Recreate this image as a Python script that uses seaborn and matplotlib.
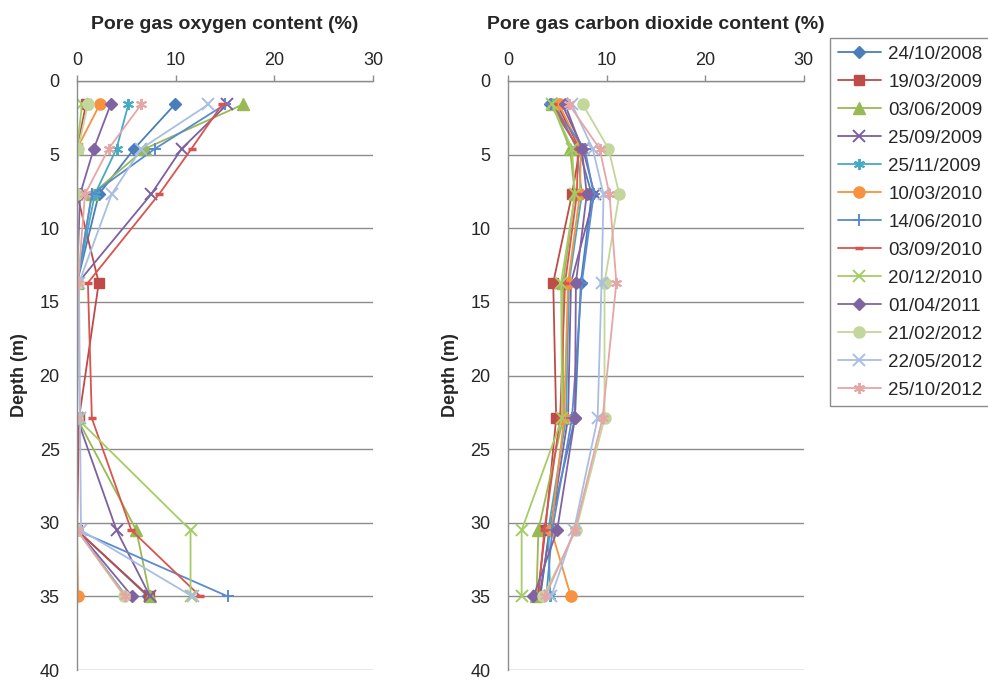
import pandas as pd
import matplotlib
matplotlib.use('Agg')
import matplotlib.pyplot as plt
import seaborn as sns

# sampling depths (m)
depths = [1.6, 4.6, 7.7, 13.7, 22.9, 30.5, 35.0]

dates = ['24/10/2008', '19/03/2009', '03/06/2009', '25/09/2009', '25/11/2009',
         '10/03/2010', '14/06/2010', '03/09/2010', '20/12/2010', '01/04/2011',
         '21/02/2012', '22/05/2012', '25/10/2012']

# pore gas oxygen (%) per survey, one row per date
o2 = [
    [9.9, 5.8, 2.2, 0.0, 0.0, 0.0, 7.2],
    [0.9, 0.0, 0.0, 2.2, 0.2, 0.0, 7.3],
    [16.8, 6.9, 1.5, 0.0, 0.0, 6.0, 7.4],
    [15.2, 10.6, 7.5, 0.1, 0.0, 4.0, 7.4],
    [5.2, 4.0, 1.8, 0.0, 0.0, 0.0, 5.0],
    [2.3, 0.0, 0.0, 0.0, 0.0, 0.0, 0.1],
    [15.0, 7.9, 1.5, 0.0, 0.0, 0.0, 15.3],
    [14.7, 11.6, 8.3, 1.1, 1.5, 5.5, 12.5],
    [0.5, 0.0, 0.0, 0.0, 0.0, 11.5, 11.5],
    [3.4, 1.7, 0.3, 0.0, 0.0, 0.0, 5.6],
    [1.1, 0.1, 0.0, 0.1, 0.0, 0.0, 4.8],
    [13.3, 6.5, 3.5, 0.2, 0.3, 0.4, 11.7],
    [6.5, 3.2, 0.8, 0.1, 0.0, 0.0, 4.9],
]

# pore gas carbon dioxide (%)
co2 = [
    [4.3, 7.2, 8.5, 7.4, 6.8, 4.2, 3.3],
    [5.0, 7.3, 6.5, 4.6, 4.9, 3.8, 3.0],
    [4.5, 6.3, 6.8, 5.6, 5.6, 3.1, 2.9],
    [5.5, 7.6, 8.8, 6.4, 6.1, 4.3, 3.2],
    [4.8, 7.0, 7.5, 6.2, 5.9, 4.1, 4.3],
    [5.2, 7.4, 7.3, 6.1, 5.7, 4.4, 6.4],
    [4.4, 7.8, 8.7, 7.5, 6.5, 4.5, 3.9],
    [4.6, 7.1, 7.0, 5.8, 5.3, 3.7, 3.1],
    [4.5, 6.5, 6.8, 5.4, 5.5, 1.4, 1.4],
    [5.8, 7.5, 8.0, 6.9, 6.8, 5.0, 2.6],
    [7.6, 10.2, 11.3, 9.8, 9.8, 6.9, 3.6],
    [6.5, 8.6, 9.7, 9.5, 9.1, 6.7, 4.4],
    [6.2, 9.3, 10.3, 11.0, 9.6, 6.8, 3.8],
]

colors = ['#4A7EBB', '#BE4B48', '#98B954', '#7D60A0', '#46AAC5', '#F69240',
          '#5A8ACF', '#D9534F', '#A5CC66', '#8064A2', '#C3D69B', '#A9BEE3', '#E6A6A5']
markers = ['D', 's', '^', 'x', (6, 2, 0), 'o', '+', '_', 'x', 'D', 'o', 'x', (6, 2, 0)]
msizes = [6.5, 7.5, 8, 8, 8, 8, 8, 6, 8, 6.5, 8, 8, 8]

rows = []
for d, ov, cv in zip(dates, o2, co2):
    for i, dep in enumerate(depths):
        rows.append({'date': d, 'depth': dep, 'o2': ov[i], 'co2': cv[i]})
df = pd.DataFrame(rows)

sns.set_style('white')
plt.rcParams['font.family'] = ['Liberation Sans', 'DejaVu Sans']
plt.rcParams['font.size'] = 13

fig = plt.figure(figsize=(9.88, 6.8), dpi=100)
ax1 = fig.add_axes([0.078, 0.0145, 0.2996, 0.8665])
ax2 = fig.add_axes([0.514, 0.0145, 0.2996, 0.8665])

grey = '#8C8C8C'
for ax, col, title in [(ax1, 'o2', 'Pore gas oxygen content (%)'),
                       (ax2, 'co2', 'Pore gas carbon dioxide content (%)')]:
    for k, d in enumerate(dates):
        sub = df[df['date'] == d]
        m = markers[k]
        filled = m in ('D', 's', '^', 'o')
        sns.lineplot(x=sub[col].values, y=sub['depth'].values, ax=ax,
                     sort=False, estimator=None, color=colors[k], lw=1.3,
                     marker=m, markersize=msizes[k],
                     markerfacecolor=colors[k], markeredgecolor=colors[k],
                     markeredgewidth=1.0 if filled else (2.5 if m == '_' else 1.4),
                     label=d, legend=False)
    ax.set_xlim(0, 30)
    ax.set_ylim(40, 0)
    ax.set_xticks([0, 10, 20, 30])
    ax.set_yticks(range(0, 41, 5))
    ax.xaxis.tick_top()
    ax.xaxis.set_label_position('top')
    ax.yaxis.grid(True, color=grey, lw=1)
    ax.xaxis.grid(False)
    for s in ['right', 'bottom']:
        ax.spines[s].set_visible(False)
    for s in ['left', 'top']:
        ax.spines[s].set_color(grey)
        ax.spines[s].set_linewidth(1)
    ax.tick_params(axis='both', direction='out', length=4.5, width=1, color=grey,
                   labelsize=13, pad=8)
    ax.tick_params(axis='x', pad=4)
    ax.set_xlabel('')
    ax.set_ylabel('Depth (m)', fontsize=13, fontweight='bold', labelpad=8)
    ax.set_title(title, fontsize=14, fontweight='bold', pad=17)

handles, labels = ax1.get_legend_handles_labels()
leg = fig.legend(handles, labels, loc='upper left',
                 bbox_to_anchor=(830 / 988, 1 - 38 / 680), borderaxespad=0,
                 fancybox=False, edgecolor=grey, framealpha=1, fontsize=13.5,
                 labelspacing=0.58, handlelength=2.3, handletextpad=0.4,
                 borderpad=0.4)
leg.get_frame().set_linewidth(1)

fig.savefig('out.png', dpi=100)
